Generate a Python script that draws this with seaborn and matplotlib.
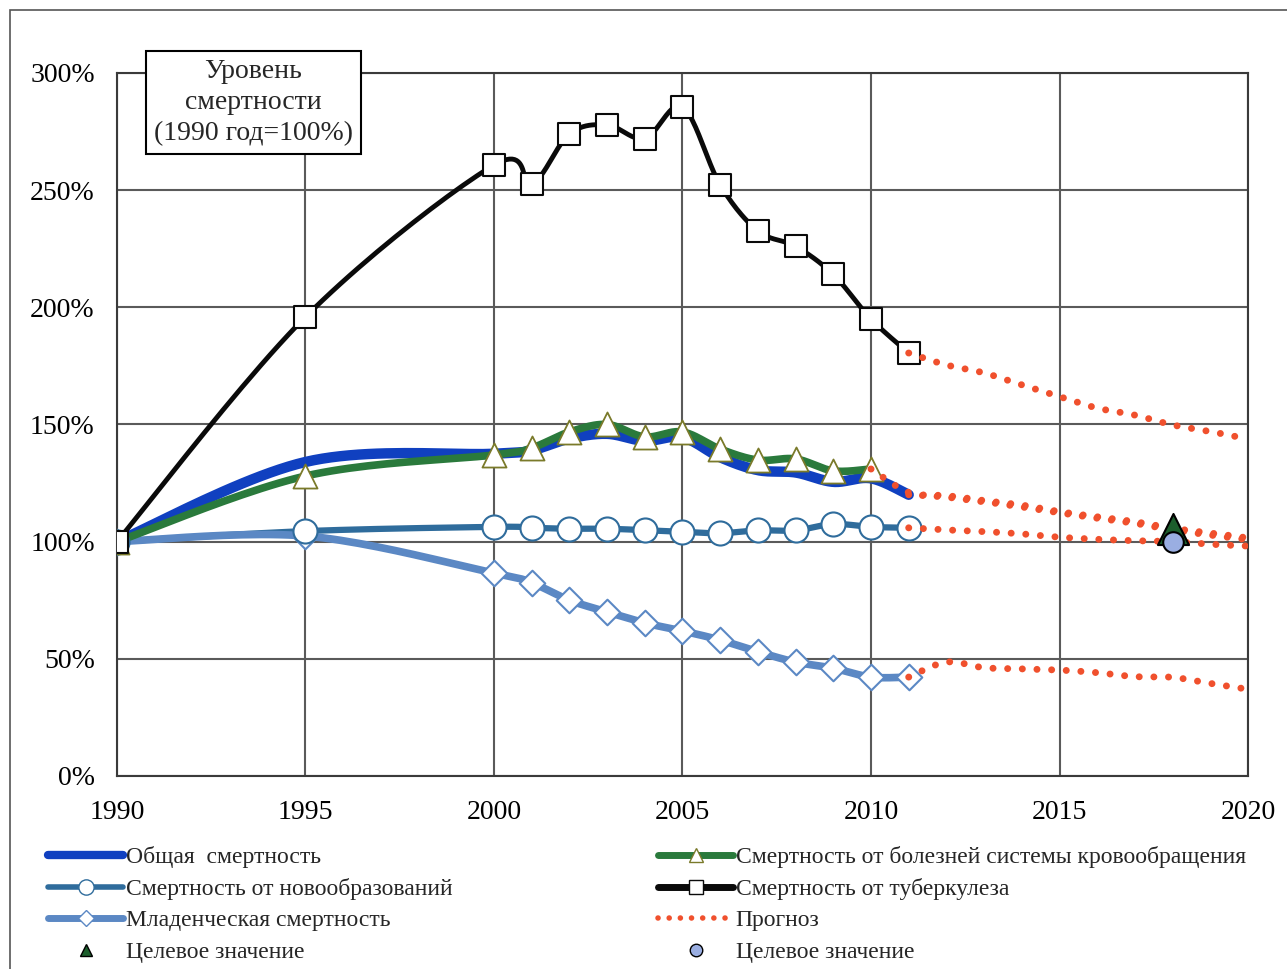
import numpy as np
import matplotlib
matplotlib.use("Agg")
import matplotlib.pyplot as plt
from matplotlib.lines import Line2D
from matplotlib.patches import Rectangle
import seaborn as sns

# Observed data (1990 = 100%)
years = [1990, 1995, 2000, 2001, 2002, 2003, 2004, 2005, 2006, 2007, 2008, 2009, 2010, 2011]
total = [100, 134, 137.5, 139, 144, 146, 143, 144.5, 136, 130.5, 129.5, 125.5, 127, 120]
circ_years = years[:-1]
circ = [100, 128, 137, 140, 146.8, 150, 144.7, 146.8, 139.5, 134.8, 135.3, 130.2, 131]
neo = [100, 104.5, 106.3, 105.9, 105.5, 105.5, 104.9, 104.2, 103.6, 104.8, 104.8, 107.5, 106.3, 105.9]
infant = [100, 102.4, 86.6, 82.4, 75, 70, 65.3, 61.9, 58, 53, 48.6, 46, 42.2, 42.2]
tb = [100, 195.9, 260.7, 252.6, 274, 277.8, 272, 285.5, 252.2, 232.6, 226, 214, 195, 180.5]

# Forecasts
fc_years = [2011, 2012, 2013, 2014, 2015, 2016, 2017, 2018, 2019, 2020]
tb_fc = [180.5, 175.4, 172, 166.9, 161.9, 157, 154, 149.8, 147, 143.8]
total_fc = [120, 119.6, 117.5, 115.6, 112.8, 110.6, 108.5, 105.7, 103.7, 101.6]
circ_fc_years = [2010] + fc_years
circ_fc = [131, 121, 119, 117, 114.8, 112.3, 110, 107.8, 105, 102.8, 100.8]
neo_fc = [105.9, 105, 104.3, 103.3, 101.9, 101, 100.4, 100, 98.9, 98.1]
infant_fc = [42.2, 48.6, 46.2, 45.7, 45.2, 44.1, 42.4, 42.1, 39.5, 37]

# Target values
target_year = 2018
target_circ = 105.5
target_total = 100

x_ticks = [1990, 1995, 2000, 2005, 2010, 2015, 2020]
y_ticks = [0, 50, 100, 150, 200, 250, 300]

C_TOTAL = "#1040c0"
C_CIRC = "#2a7a3c"
C_NEO = "#2f6c9c"
C_INF = "#5b88c4"
C_TB = "#0a0a0a"
C_FC = "#f0502d"


def smooth(x, y, n=24):
    # Excel-style smoothed line (Bezier through the points)
    p = np.column_stack([x, y]).astype(float)
    out = []
    for i in range(len(p) - 1):
        p0 = p[i - 1] if i > 0 else p[i]
        p1, p2 = p[i], p[i + 1]
        p3 = p[i + 2] if i + 2 < len(p) else p[i + 1]
        c1 = p1 + (p2 - p0) / 6
        c2 = p2 - (p3 - p1) / 6
        t = np.linspace(0, 1, n)[:, None]
        seg = (1 - t) ** 3 * p1 + 3 * (1 - t) ** 2 * t * c1 + 3 * (1 - t) * t ** 2 * c2 + t ** 3 * p2
        out.append(seg if i == 0 else seg[1:])
    return np.vstack(out)


sns.set_theme(style="white")
plt.rcParams["font.family"] = ["Liberation Serif", "DejaVu Serif"]

fig = plt.figure(figsize=(12.87, 9.69), dpi=100)
ax = fig.add_axes([0.0909, 0.1992, 0.8788, 0.7255])


def line(x, y, color, lw, z, **kw):
    s = smooth(x, y)
    sns.lineplot(x=s[:, 0], y=s[:, 1], sort=False, estimator=None, color=color,
                 linewidth=lw, zorder=z, ax=ax, **kw)


line(years, total, C_TOTAL, 7.5, 3)
line(circ_years, circ, C_CIRC, 5.5, 4)
line(years, neo, C_NEO, 4.5, 3)
line(years, infant, C_INF, 5.5, 3)
line(years, tb, C_TB, 3.5, 3)

sns.scatterplot(x=years, y=infant, marker="D", s=170, color="white", edgecolor=C_INF, linewidth=1.5, zorder=5, ax=ax)
sns.scatterplot(x=years, y=neo, marker="o", s=300, color="white", edgecolor=C_NEO, linewidth=1.5, zorder=5, ax=ax)
sns.scatterplot(x=circ_years, y=circ, marker="^", s=300, color="white", edgecolor="#7a7a2a", linewidth=1.3, zorder=6, ax=ax)
sns.scatterplot(x=years, y=tb, marker="s", s=250, color="white", edgecolor=C_TB, linewidth=1.5, zorder=6, ax=ax)

fc_style = dict(linestyle=(0, (0.01, 2.1)), dash_capstyle="round")
for fx, fyv in [(fc_years, tb_fc), (fc_years, total_fc), (circ_fc_years, circ_fc),
                (fc_years, neo_fc), (fc_years, infant_fc)]:
    line(fx, fyv, C_FC, 5, 7, **fc_style)

sns.scatterplot(x=[target_year], y=[target_circ], marker="^", s=500, color="#1c5e2c", edgecolor="black", linewidth=1.5, zorder=8, ax=ax)
sns.scatterplot(x=[target_year], y=[target_total], marker="o", s=220, color="#9aaee2", edgecolor="black", linewidth=1.5, zorder=9, ax=ax)

ax.set_xlim(1990, 2020)
ax.set_ylim(0, 300)
ax.set_xticks(x_ticks)
ax.set_yticks(y_ticks)
ax.set_yticklabels([f"{v}%" for v in y_ticks])
ax.tick_params(axis="both", length=0, labelsize=20, colors="black")
ax.tick_params(axis="x", pad=17)
ax.tick_params(axis="y", pad=16)
ax.grid(True, color="#5a5a5a", linewidth=1.5)
ax.set_axisbelow(True)
for sp in ax.spines.values():
    sp.set_color("#3a3a3a")
    sp.set_linewidth(1.5)
ax.set_xlabel("")
ax.set_ylabel("")

fig.text(0.197, 0.894, "Уровень\nсмертности\n(1990 год=100%)", ha="center", va="center",
         fontsize=20, linespacing=1.3, zorder=10,
         bbox=dict(boxstyle="square,pad=0.3", fc="white", ec="black", lw=1.5))

# Outer frame
fig.add_artist(Rectangle((0.0078, -0.05), 1.1, 1.0397, transform=fig.transFigure,
                         fill=False, ec="#555555", lw=1.2))


def h(color, lw, marker=None, mec=None, ms=10, ls="-", **kw):
    return Line2D([0], [0], color=color, lw=lw, marker=marker, markerfacecolor="white",
                  markeredgecolor=mec, markersize=ms, linestyle=ls, **kw)


left_handles = [
    h(C_TOTAL, 6),
    h(C_NEO, 4, "o", C_NEO, 11),
    h(C_INF, 5, "D", C_INF, 8),
    Line2D([0], [0], linestyle="none", marker="^", color="#1c5e2c", markeredgecolor="black", markersize=9),
]
left_labels = ["Общая  смертность", "Смертность от новообразований", "Младенческая смертность", "Целевое значение"]
right_handles = [
    h(C_CIRC, 5, "^", "#7a7a2a", 10),
    h(C_TB, 5, "s", C_TB, 10),
    Line2D([0], [0], color=C_FC, lw=4, linestyle=(0, (0.01, 2.0)), dash_capstyle="round"),
    Line2D([0], [0], linestyle="none", marker="o", color="#9aaee2", markeredgecolor="black", markersize=9),
]
right_labels = ["Смертность от болезней системы кровообращения", "Смертность от туберкулеза", "Прогноз", "Целевое значение"]

leg_kw = dict(frameon=False, fontsize=17, handlelength=3.2, handletextpad=0.1,
              labelspacing=0.42, borderpad=0, loc="upper left")
fig.legend(left_handles, left_labels, bbox_to_anchor=(0.028, 0.139), **leg_kw)
fig.legend(right_handles, right_labels, bbox_to_anchor=(0.502, 0.139), **leg_kw)

fig.savefig("out.png", dpi=100, facecolor="white")
